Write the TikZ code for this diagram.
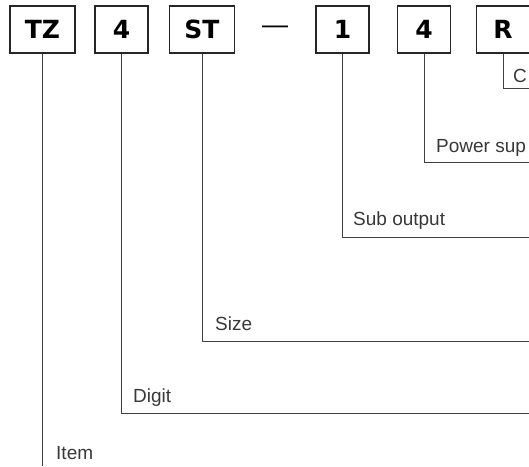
\documentclass[tikz,border=0pt]{standalone}
\usepackage{fontspec}
\setmainfont{Liberation Sans}
\newfontfamily\codefont{DejaVu Sans}
\usetikzlibrary{positioning}

\begin{document}
\begin{tikzpicture}[x=1pt,y=1pt,
    codebox/.style={draw=black!85, line width=1.3pt, minimum width=53pt, minimum height=47pt,
      inner xsep=15pt, inner ysep=0pt, font=\codefont\bfseries\fontsize{25}{25}\selectfont},
    lead/.style={draw=black!75, line width=1pt},
    tag/.style={anchor=base west, inner sep=0pt, text=black!78, font=\fontsize{19}{19}\selectfont}]

    \useasboundingbox (0,0) rectangle (529,-466);
    \clip (0,0) rectangle (529,-466);

    % code boxes
    \node[codebox] (item) at (42.5,-29.5) {TZ};
    \node[codebox] (digit) at (121.5,-29.5) {4};
    \node[codebox] (size) at (202,-29.5) {ST};
    \node[inner sep=0pt, font=\fontsize{26}{26}\selectfont] (dash) at (275,-29.5) {—};
    \node[codebox] (subout) at (342.5,-29.5) {1};
    \node[codebox] (power) at (424,-29.5) {4};
    \node[codebox] (ctrl) at (503,-29.5) {R};

    % line ends
    \coordinate (itemend) at (42.5,-466);
    \coordinate (digitend) at (529,-413);
    \coordinate (sizeend) at (529,-341);
    \coordinate (suboutend) at (529,-237);
    \coordinate (powerend) at (529,-162);
    \coordinate (ctrlend) at (529,-88);

    \draw[lead] (item.south) -- (itemend);
    \draw[lead] (digit.south) |- (digitend);
    \draw[lead] (size.south) |- (sizeend);
    \draw[lead] (subout.south) |- (suboutend);
    \draw[lead] (power.south) |- (powerend);
    \draw[lead] (ctrl.south) |- (ctrlend);

    % labels
    \node[tag] (itemtag) at (56,-459) {Item};
    \node[tag] (digittag) at (133,-402) {Digit};
    \node[tag] (sizetag) at (215,-330) {Size};
    \node[tag] (subouttag) at (353,-225) {Sub output};
    \node[tag] (powertag) at (436,-152) {Power sup};
    \node[tag] (ctrltag) at (513,-82) {C};

\end{tikzpicture}
\end{document}
